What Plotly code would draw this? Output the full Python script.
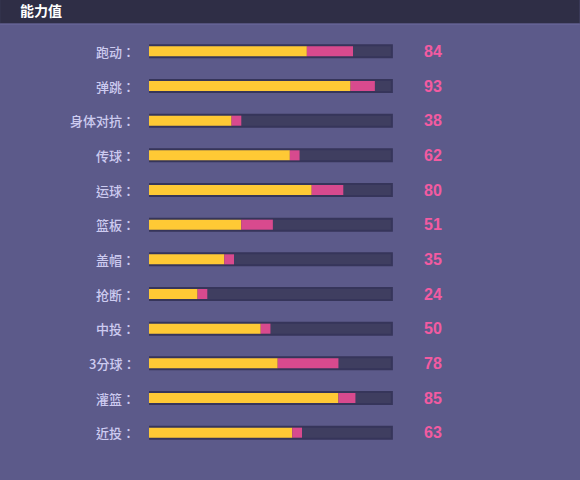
import plotly.graph_objects as go

categories = ["跑动", "弹跳", "身体对抗", "传球", "运球", "篮板", "盖帽", "抢断", "中投", "3分球", "灌篮", "近投"]
totals = [84, 93, 38, 62, 80, 51, 35, 24, 50, 78, 85, 63]
base_values = [65, 83, 34, 58, 67, 38, 31, 20, 46, 53, 78, 59]
max_value = 100

BG = "#5c5a8a"
HEADER = "#2f2e46"
TRACK = "#3f3e60"
TRACK_LINE = "#36355a"
YELLOW = "#ffc935"
PINK = "#d84a8e"
VALUE_COLOR = "#f35ba1"
LABEL_COLOR = "#cdcbf0"

W, H = 580, 480
ml, mt, mb = 149, 34.4, 29.7
x_max = 140
plot_w = 243 / 100 * x_max
mr = W - ml - plot_w
plot_h = H - mt - mb
value_x = 116.9

fig = go.Figure()

fig.add_trace(go.Bar(
    y=categories, x=[max_value] * len(categories), orientation="h",
    marker=dict(color=TRACK, line=dict(color=TRACK_LINE, width=2)),
    width=0.346, hoverinfo="skip", showlegend=False,
))
fig.add_trace(go.Bar(
    y=categories, x=base_values, orientation="h",
    marker=dict(color=YELLOW, line=dict(width=0)),
    width=0.289, showlegend=False,
))
fig.add_trace(go.Bar(
    y=categories, x=[t - b for t, b in zip(totals, base_values)], base=base_values,
    orientation="h",
    marker=dict(color=PINK, line=dict(width=0)),
    width=0.289, showlegend=False,
))

for c, v in zip(categories, totals):
    fig.add_annotation(
        x=0, xref="paper", y=c, yref="y", text=c + "：", showarrow=False,
        xanchor="right", xshift=-12, yanchor="middle",
        font=dict(family="Noto Sans CJK TC", size=13, color=LABEL_COLOR, weight=500),
    )
    fig.add_annotation(
        x=value_x, xref="x", y=c, yref="y", text=str(v), showarrow=False,
        xanchor="center", yanchor="middle", yshift=0,
        font=dict(family="Liberation Sans Narrow, Liberation Sans, sans-serif",
                  size=16, color=VALUE_COLOR, weight="bold"),
    )

# header band
fig.add_shape(type="rect", xref="paper", yref="paper",
              x0=-ml / plot_w, x1=1 + mr / plot_w,
              y0=1 + (mt - 24) / plot_h, y1=1 + mt / plot_h + 0.01,
              fillcolor=HEADER, line=dict(width=0), layer="below")
fig.add_shape(type="line", xref="paper", yref="paper",
              x0=-ml / plot_w, x1=1 + mr / plot_w,
              y0=1 + (mt - 24.5) / plot_h, y1=1 + (mt - 24.5) / plot_h,
              line=dict(color="#6a689a", width=1), layer="below")

fig.update_layout(
    width=W, height=H,
    margin=dict(l=ml, r=mr, t=mt, b=mb, pad=0),
    paper_bgcolor=BG, plot_bgcolor=BG,
    barmode="overlay",
    title=dict(text="<b>能力值</b>", xref="container", yref="container",
               x=20 / W, y=1 - 11.5 / H, xanchor="left", yanchor="middle",
               font=dict(family="Noto Sans CJK SC", size=14, color="#ffffff")),
    xaxis=dict(range=[0, x_max], visible=False, fixedrange=True),
    yaxis=dict(categoryorder="array", categoryarray=categories,
               range=[len(categories) - 0.5, -0.5], autorange=False,
               showticklabels=False, showgrid=False,
               zeroline=False, fixedrange=True),
    showlegend=False,
)

fig.write_html("out.html", config={"displayModeBar": False},
               post_script="document.body.style.margin='0';document.body.style.overflow='hidden';")
